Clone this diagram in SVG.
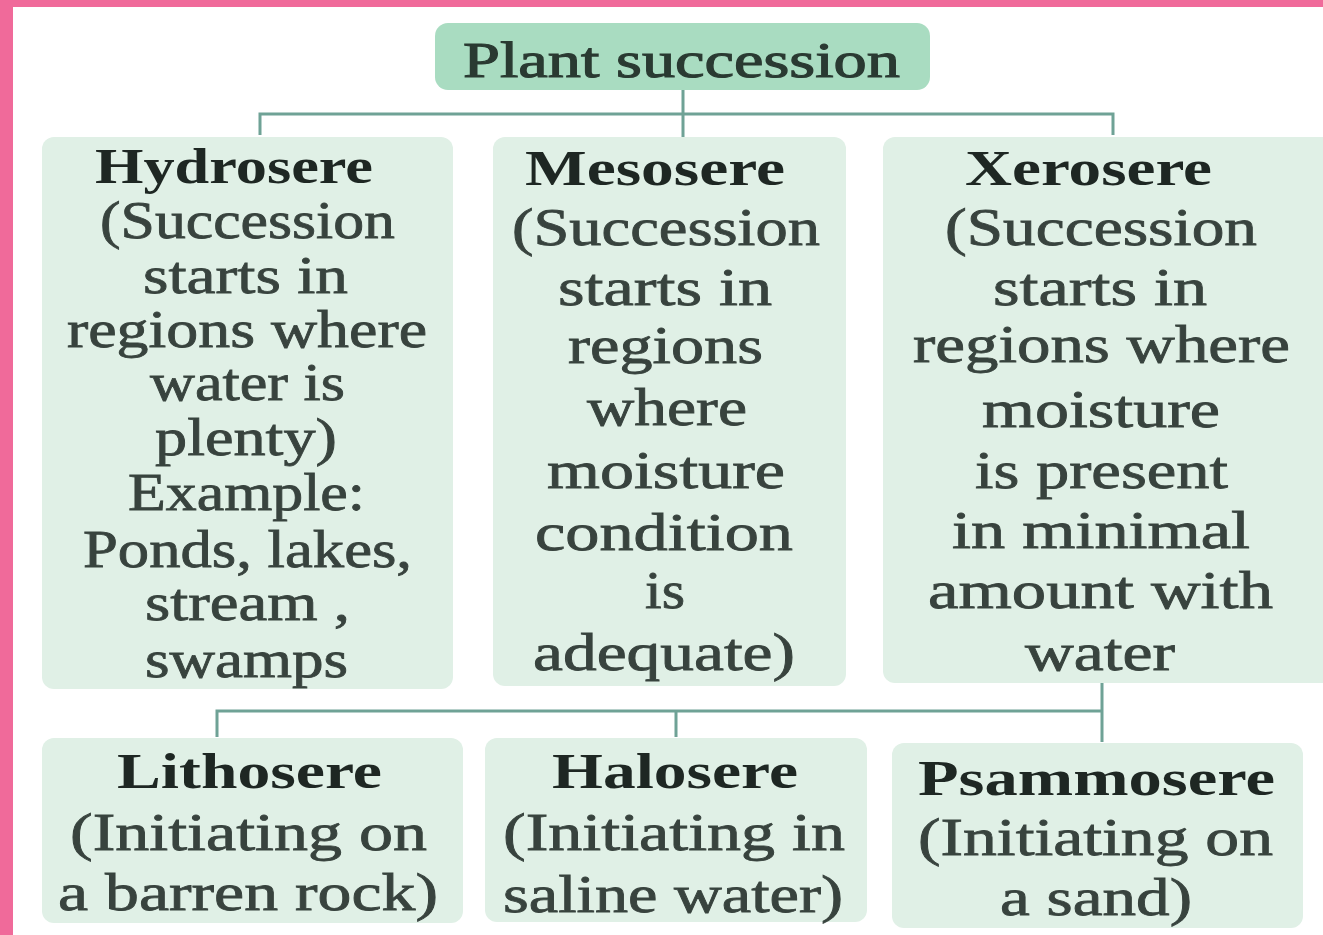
<svg xmlns="http://www.w3.org/2000/svg" width="1323" height="935" viewBox="0 0 1323 935">
<style>
.box{fill:#e0f0e6}
.top{fill:#a9dcc1}
.t{font-family:"Liberation Serif","Times New Roman",serif;text-anchor:start;}
.h{font-weight:bold;fill:#1e2723;font-size:51px}
.b{fill:#38433e;stroke:#38433e;stroke-width:0.8;font-size:52px}
.c{fill:none;stroke:#6fa296;stroke-width:3}
</style>
<rect x="0" y="0" width="1323" height="935" fill="#ffffff"/>
<rect x="0" y="0" width="1323" height="7" fill="#f06a9a"/>
<rect x="0" y="0" width="13" height="935" fill="#f06a9a"/>

<g id="connectors">
<path class="c" d="M683 90 V137 M260 135 V114 H1113 V135"/>
<path class="c" d="M1102 683 V742 M217 737 V711 H1102 M676 711 V737"/>
</g>

<g id="plant-succession">
<rect class="top" x="435" y="23" width="495" height="67" rx="13"/>
<text class="t" x="463" y="77" textLength="437" lengthAdjust="spacingAndGlyphs" style="font-size:50px;fill:#2a3a32;stroke:#2a3a32;stroke-width:1.1">Plant succession</text>
</g>

<g id="hydrosere">
<rect class="box" x="42" y="137" width="411" height="552" rx="12"/>
<text class="t h" x="95" y="183" textLength="278" lengthAdjust="spacingAndGlyphs">Hydrosere</text>
<text class="t b" x="100" y="238" textLength="295" lengthAdjust="spacingAndGlyphs">(Succession</text>
<text class="t b" x="143" y="293" textLength="205" lengthAdjust="spacingAndGlyphs">starts in</text>
<text class="t b" x="67" y="347" textLength="360" lengthAdjust="spacingAndGlyphs">regions where</text>
<text class="t b" x="150" y="400" textLength="195" lengthAdjust="spacingAndGlyphs">water is</text>
<text class="t b" x="155" y="455" textLength="182" lengthAdjust="spacingAndGlyphs">plenty)</text>
<text class="t b" x="128" y="510" textLength="237" lengthAdjust="spacingAndGlyphs">Example:</text>
<text class="t b" x="83" y="567" textLength="329" lengthAdjust="spacingAndGlyphs">Ponds, lakes,</text>
<text class="t b" x="145" y="620" textLength="205" lengthAdjust="spacingAndGlyphs">stream ,</text>
<text class="t b" x="145" y="677" textLength="203" lengthAdjust="spacingAndGlyphs">swamps</text>
</g>

<g id="mesosere">
<rect class="box" x="493" y="137" width="353" height="549" rx="12"/>
<text class="t h" x="525" y="185" textLength="260" lengthAdjust="spacingAndGlyphs">Mesosere</text>
<text class="t b" x="512" y="245" textLength="308" lengthAdjust="spacingAndGlyphs">(Succession</text>
<text class="t b" x="558" y="305" textLength="214" lengthAdjust="spacingAndGlyphs">starts in</text>
<text class="t b" x="568" y="363" textLength="195" lengthAdjust="spacingAndGlyphs">regions</text>
<text class="t b" x="587" y="425" textLength="160" lengthAdjust="spacingAndGlyphs">where</text>
<text class="t b" x="547" y="488" textLength="238" lengthAdjust="spacingAndGlyphs">moisture</text>
<text class="t b" x="535" y="550" textLength="258" lengthAdjust="spacingAndGlyphs">condition</text>
<text class="t b" x="645" y="608" textLength="40" lengthAdjust="spacingAndGlyphs">is</text>
<text class="t b" x="533" y="670" textLength="262" lengthAdjust="spacingAndGlyphs">adequate)</text>
</g>

<g id="xerosere">
<rect class="box" x="883" y="137" width="452" height="546" rx="12"/>
<text class="t h" x="965" y="185" textLength="247" lengthAdjust="spacingAndGlyphs">Xerosere</text>
<text class="t b" x="945" y="245" textLength="312" lengthAdjust="spacingAndGlyphs">(Succession</text>
<text class="t b" x="993" y="305" textLength="214" lengthAdjust="spacingAndGlyphs">starts in</text>
<text class="t b" x="913" y="362" textLength="377" lengthAdjust="spacingAndGlyphs">regions where</text>
<text class="t b" x="982" y="427" textLength="238" lengthAdjust="spacingAndGlyphs">moisture</text>
<text class="t b" x="975" y="488" textLength="253" lengthAdjust="spacingAndGlyphs">is present</text>
<text class="t b" x="952" y="548" textLength="298" lengthAdjust="spacingAndGlyphs">in minimal</text>
<text class="t b" x="928" y="608" textLength="345" lengthAdjust="spacingAndGlyphs">amount with</text>
<text class="t b" x="1025" y="670" textLength="150" lengthAdjust="spacingAndGlyphs">water</text>
</g>

<g id="lithosere">
<rect class="box" x="42" y="738" width="421" height="185" rx="12"/>
<text class="t h" x="117" y="788" textLength="265" lengthAdjust="spacingAndGlyphs">Lithosere</text>
<text class="t b" x="70" y="850" textLength="357" lengthAdjust="spacingAndGlyphs">(Initiating on</text>
<text class="t b" x="58" y="910" textLength="380" lengthAdjust="spacingAndGlyphs">a barren rock)</text>
</g>

<g id="halosere">
<rect class="box" x="485" y="738" width="382" height="184" rx="12"/>
<text class="t h" x="552" y="788" textLength="246" lengthAdjust="spacingAndGlyphs">Halosere</text>
<text class="t b" x="503" y="850" textLength="342" lengthAdjust="spacingAndGlyphs">(Initiating in</text>
<text class="t b" x="503" y="912" textLength="340" lengthAdjust="spacingAndGlyphs">saline water)</text>
</g>

<g id="psammosere">
<rect class="box" x="892" y="743" width="411" height="185" rx="12"/>
<text class="t h" x="918" y="795" textLength="357" lengthAdjust="spacingAndGlyphs">Psammosere</text>
<text class="t b" x="918" y="855" textLength="355" lengthAdjust="spacingAndGlyphs">(Initiating on</text>
<text class="t b" x="1000" y="915" textLength="192" lengthAdjust="spacingAndGlyphs">a sand)</text>
</g>
</svg>
